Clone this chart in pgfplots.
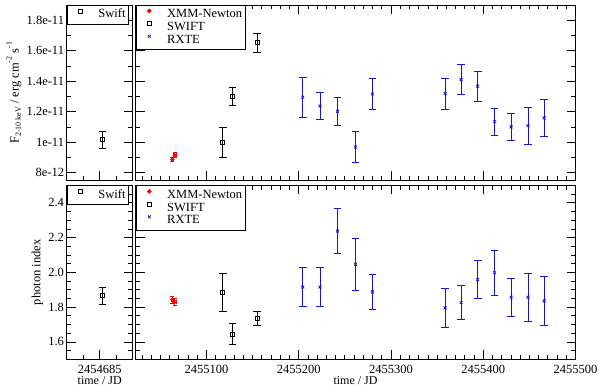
\documentclass[border=0pt]{standalone}
\usepackage{fontspec}
\setmainfont{Liberation Serif}
\usepackage{pgfplots}
\pgfplotsset{compat=1.18}
\definecolor{rxteblue}{RGB}{20,20,220}
\newcommand\fs{\fontsize{12.5}{14}\selectfont}
\newcommand\lo[1]{\raisebox{-0.4ex}{\fontsize{8}{8}\selectfont #1}}
\newcommand\hi[1]{\raisebox{1.2ex}{\fontsize{8}{8}\selectfont #1}}

\pgfplotsset{
  panel/.style={
    scale only axis, anchor=south west, clip=false,
    axis line style={line width=0.8pt},
    every tick/.style={black, line width=0.8pt},
    major tick length=9pt, minor tick length=4.5pt, tick align=inside,
    ticklabel style={font=\fs}, label style={font=\fs},
    xticklabel style={anchor=base, yshift=-14.2pt, inner sep=0pt},
    yticklabel style={anchor=east, inner sep=0pt, xshift=-2.5pt},
    xlabel style={at={(axis description cs:0.5,0)}, anchor=base, yshift=-25.4pt,
      inner sep=0pt, font=\fontsize{12}{13}\selectfont},
    legend cell align=left,
    legend style={at={(0,1)}, anchor=north west, draw=black, line width=0.8pt,
      fill=white, inner xsep=0pt, inner ysep=3pt, row sep=0pt,
      nodes={inner xsep=3pt, inner ysep=0.6pt, text height=9pt, text depth=2.5pt, font=\fs}},
    legend image code/.code={\path (0pt,0pt) (27.5pt,0pt); \draw[##1, only marks] plot coordinates {(13pt,3.8pt)};},
  },
  left/.style={panel, width=66pt, xmin=-2, xmax=2, xtick={0}, minor xtick={-1,1}},
  right/.style={panel, width=440pt, xmin=23, xmax=500, xtick={100,200,300,400,500},
    minor xtick={30,40,...,490}, yticklabels={}},
  toprow/.style={height=175.5pt, ymin=0.75, ymax=1.9, ytick={0.8,1.0,1.2,1.4,1.6,1.8},
    minor ytick={0.9,1.1,1.3,1.5,1.7}, xticklabels={}},
  botrow/.style={height=173.8pt, ymin=1.5, ymax=2.5, ytick={1.6,1.8,2.0,2.2,2.4},
    minor ytick={1.55,1.65,1.7,1.75,1.85,1.9,1.95,2.05,2.1,2.15,2.25,2.3,2.35,2.45}},
  ebar/.style={error bars/.cd, y dir=both, y explicit,
    error bar style={line width=0.8pt},
    error mark options={rotate=90, mark size=3.8pt, line width=0.8pt}},
  xmm/.style={only marks, mark=*, mark size=1.9pt, red,
    error bars/.cd, x dir=both, x explicit, y dir=both, y explicit,
    error bar style={line width=0.8pt},
    error mark options={rotate=90, mark size=2pt, line width=0.8pt}},
  swift/.style={only marks, mark=square, mark size=2pt, black, mark options={line width=0.8pt}, ebar},
  rxte/.style={only marks, mark=x, mark size=2pt, rxteblue, mark options={line width=0.8pt}, ebar},
}

\begin{document}
\begin{tikzpicture}
\useasboundingbox (0,0) rectangle (600pt,387pt);

% flux, left
\begin{axis}[left, toprow, at={(66.7pt,206.5pt)},
  yticklabels={8e-12,1e-11,1.2e-11,1.4e-11,1.6e-11,1.8e-11},
  ylabel={F\lo{2-10 keV} / erg cm\hi{-2} s\hi{-1}},
  ylabel style={at={(axis description cs:-0.730,0.5)}, anchor=base, inner sep=0pt}]
\addplot[swift] coordinates {(0.18,1.016) +- (0,0.053)};
\legend{Swift}
\end{axis}

% flux, right
\begin{axis}[right, toprow, at={(135.5pt,206.5pt)}]
\addplot[xmm] coordinates {(63,0.889) +- (1.5,0.015) (65.5,0.916) +- (1.5,0.015)};
\addplot[swift] coordinates {
  (117.7,1.000) +- (0,0.100)
  (128.2,1.300) +- (0,0.060)
  (155.0,1.652) +- (0,0.060)};
\addplot[rxte] coordinates {
  (204.3,1.296) +- (0,0.130)
  (223.0,1.238) +- (0,0.090)
  (242.0,1.204) +- (0,0.090)
  (261.5,0.969) +- (0,0.100)
  (279.8,1.317) +- (0,0.100)
  (358.7,1.319) +- (0,0.100)
  (376.0,1.411) +- (0,0.100)
  (394.0,1.368) +- (0,0.100)
  (412.3,1.135) +- (0,0.090)
  (430.2,1.101) +- (0,0.090)
  (448.5,1.109) +- (0,0.120)
  (466.0,1.160) +- (0,0.120)};
\legend{XMM-Newton,SWIFT,RXTE}
\end{axis}

% photon index, left
\begin{axis}[left, botrow, at={(66.7pt,27.7pt)},
  xticklabels={2454685}, xlabel={time / JD},
  yticklabels={1.6,1.8,2.0,2.2,2.4},
  ylabel={photon index},
  ylabel style={at={(axis description cs:-0.397,0.5)}, anchor=base, inner sep=0pt}]
\addplot[swift] coordinates {(0.18,1.865) +- (0,0.050)};
\legend{Swift}
\end{axis}

% photon index, right
\begin{axis}[right, botrow, at={(135.5pt,27.7pt)},
  xticklabels={2455100,2455200,2455300,2455400,2455500}, xlabel={time / JD}]
\addplot[xmm] coordinates {(63,1.844) +- (1.5,0.02) (65.5,1.830) +- (1.5,0.02)};
\addplot[swift] coordinates {
  (117.7,1.886) +- (0,0.110)
  (128.2,1.646) +- (0,0.060)
  (155.0,1.737) +- (0,0.040)};
\addplot[rxte] coordinates {
  (204.3,1.916) +- (0,0.110)
  (223.0,1.916) +- (0,0.110)
  (242.0,2.238) +- (0,0.130)
  (261.5,2.047) +- (0,0.150)
  (279.8,1.888) +- (0,0.100)
  (358.7,1.796) +- (0,0.110)
  (376.0,1.827) +- (0,0.100)
  (394.0,1.958) +- (0,0.110)
  (412.3,1.998) +- (0,0.130)
  (430.2,1.857) +- (0,0.110)
  (448.5,1.857) +- (0,0.140)
  (466.0,1.836) +- (0,0.140)};
\legend{XMM-Newton,SWIFT,RXTE}
\end{axis}
\end{tikzpicture}
\end{document}
